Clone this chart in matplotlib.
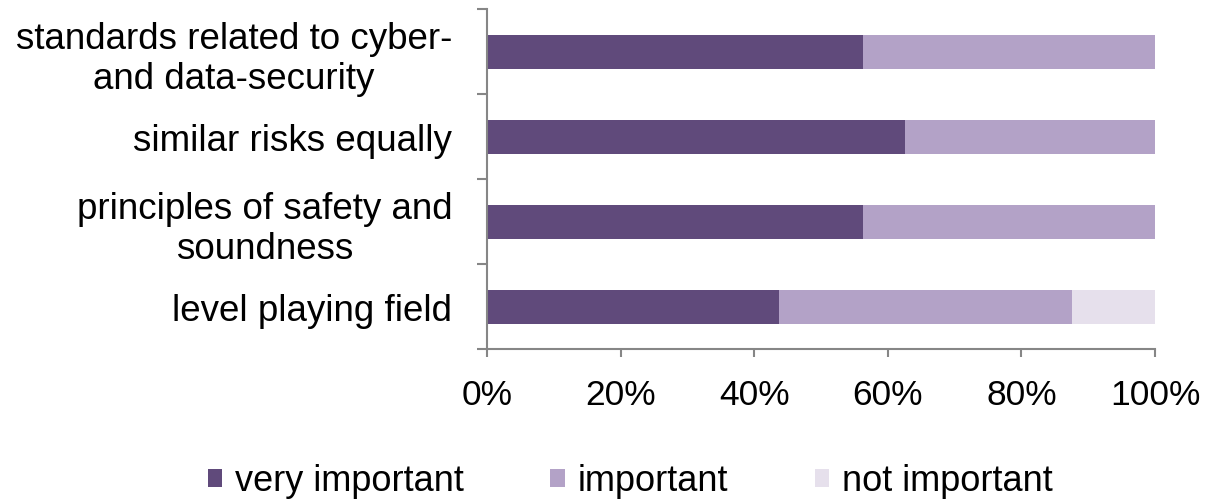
import matplotlib.pyplot as plt
import numpy as np

plt.rcParams['font.family'] = ['Liberation Sans', 'DejaVu Sans']

categories = ["level playing field",
              "principles of safety and\nsoundness",
              "similar risks equally",
              "standards related to cyber-\nand data-security"]
very_important = [43.75, 56.25, 62.5, 56.25]
important = [43.75, 43.75, 37.5, 43.75]
not_important = [12.5, 0, 0, 0]
series_names = ["very important", "important", "not important"]
colors = ["#604A7B", "#B3A2C7", "#E6E0EC"]

fig = plt.figure(figsize=(12.05, 5.02), dpi=100)
ax = fig.add_axes([487 / 1205, 1 - 350 / 502, 668 / 1205, 340 / 502])

y = np.arange(len(categories))
left = np.zeros(len(categories))
for vals, name, c in zip([very_important, important, not_important], series_names, colors):
    ax.barh(y, vals, left=left, height=0.4, color=c, label=name)
    left += np.array(vals)

ax.set_xlim(0, 100)
ax.set_ylim(-0.5, len(categories) - 0.5)

for s in ["top", "right"]:
    ax.spines[s].set_visible(False)
for s in ["left", "bottom"]:
    ax.spines[s].set_color("#868686")
    ax.spines[s].set_linewidth(1.5)

ax.set_xticks(np.arange(0, 101, 20))
ax.set_xticklabels([f"{v}%" for v in range(0, 101, 20)], fontsize=25.5)
ax.tick_params(axis="x", length=6, width=1.5, color="#868686", pad=15)

# ticks between categories, labels at the centres
ax.set_yticks(np.arange(-0.5, len(categories), 1))
ax.set_yticklabels([])
ax.tick_params(axis="y", which="major", length=7, width=1.5, color="#868686")
ax.set_yticks(y, minor=True)
ax.set_yticklabels(categories, minor=True, fontsize=26.5, multialignment="center",
                   linespacing=1.22)
ax.tick_params(axis="y", which="minor", length=0, pad=25)

fig.legend(loc="center", bbox_to_anchor=(0.523, 0.04), ncol=3, frameon=False,
           fontsize=26, handlelength=0.39, handleheight=0.39, handletextpad=0.36,
           columnspacing=2.4)

fig.savefig("out.png", dpi=100)
